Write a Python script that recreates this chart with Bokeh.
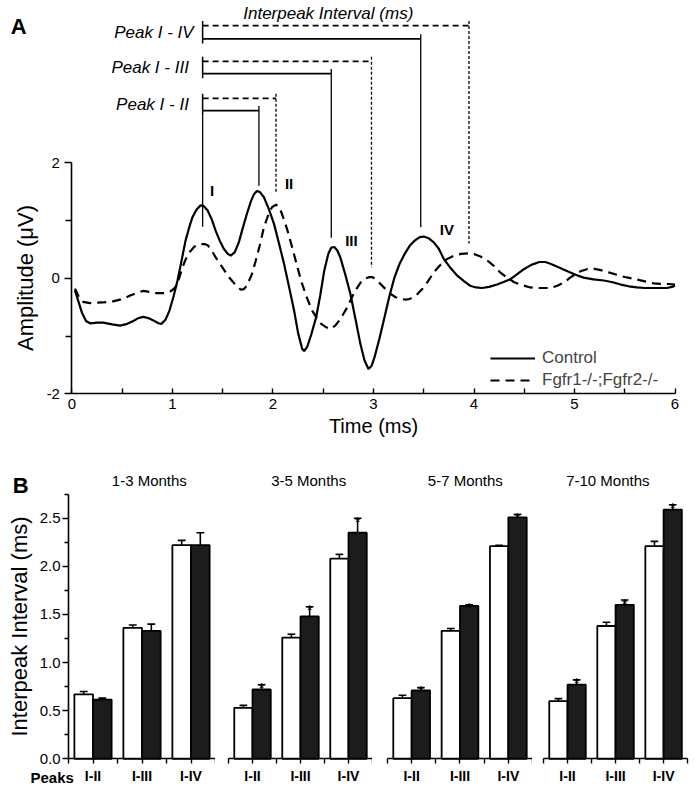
from bokeh.plotting import figure
from bokeh.layouts import column, row
from bokeh.models import (Range1d, FixedTicker, Label, Legend, LegendItem)
from bokeh.embed import file_html
from bokeh.resources import INLINE

FONT = "Liberation Sans"

# ---------------- Panel A data (ABR waveforms) ----------------
control_t = [0.03, 0.06, 0.10, 0.14, 0.18, 0.25, 0.31, 0.40, 0.48, 0.55, 0.61, 0.66, 0.71, 0.76,
             0.81, 0.86, 0.89, 0.93, 0.97, 1.01, 1.05, 1.09, 1.13, 1.17, 1.20, 1.24, 1.28, 1.31,
             1.35, 1.39, 1.43, 1.47, 1.51, 1.55, 1.58, 1.62, 1.66, 1.70, 1.74, 1.78, 1.81, 1.84,
             1.87, 1.91, 1.96, 2.01, 2.06, 2.11, 2.16, 2.21, 2.25, 2.29, 2.31, 2.34, 2.38, 2.43,
             2.47, 2.51, 2.55, 2.58, 2.61, 2.64, 2.67, 2.72, 2.77, 2.82, 2.87, 2.91, 2.95, 2.98,
             3.01, 3.06, 3.11, 3.16, 3.21, 3.26, 3.31, 3.36, 3.41, 3.46, 3.50, 3.55, 3.60, 3.65,
             3.70, 3.76, 3.83, 3.90, 3.96, 4.02, 4.08, 4.15, 4.23, 4.30, 4.36, 4.43, 4.50, 4.57,
             4.65, 4.71, 4.76, 4.84, 4.93, 5.01, 5.09, 5.19, 5.29, 5.38, 5.46, 5.54, 5.62, 5.70,
             5.79, 5.86, 5.92, 5.97, 6.00]
control_amp = [-0.21, -0.38, -0.60, -0.74, -0.78, -0.77, -0.77, -0.80, -0.82, -0.79, -0.74, -0.69,
               -0.67, -0.69, -0.73, -0.78, -0.79, -0.72, -0.56, -0.32, -0.04, 0.30, 0.65, 0.90,
               1.06, 1.19, 1.26, 1.25, 1.17, 1.02, 0.82, 0.65, 0.51, 0.42, 0.39, 0.45, 0.62, 0.87,
               1.11, 1.33, 1.45, 1.51, 1.49, 1.40, 1.19, 0.94, 0.60, 0.25, -0.15, -0.56, -0.95,
               -1.22, -1.26, -1.19, -0.98, -0.67, -0.30, 0.13, 0.42, 0.53, 0.54, 0.48, 0.36, 0.06,
               -0.27, -0.70, -1.14, -1.42, -1.57, -1.52, -1.37, -1.04, -0.67, -0.30, 0.02, 0.25,
               0.42, 0.56, 0.65, 0.71, 0.72, 0.69, 0.62, 0.51, 0.33, 0.19, 0.05, -0.05, -0.13,
               -0.16, -0.17, -0.15, -0.11, -0.06, -0.02, 0.07, 0.16, 0.23, 0.28, 0.28, 0.25, 0.19,
               0.12, 0.06, 0.01, -0.02, -0.04, -0.07, -0.11, -0.14, -0.16, -0.17, -0.17, -0.17,
               -0.17, -0.15, -0.13]

mutant_t = [0.03, 0.07, 0.11, 0.18, 0.30, 0.41, 0.50, 0.58, 0.65, 0.71, 0.78, 0.84, 0.91, 0.97,
            1.01, 1.04, 1.07, 1.10, 1.13, 1.17, 1.22, 1.28, 1.32, 1.35, 1.39, 1.43, 1.50, 1.56,
            1.62, 1.68, 1.71, 1.74, 1.79, 1.83, 1.87, 1.91, 1.95, 1.99, 2.03, 2.06, 2.09, 2.14,
            2.19, 2.24, 2.29, 2.34, 2.39, 2.44, 2.48, 2.53, 2.57, 2.62, 2.66, 2.70, 2.74, 2.78,
            2.82, 2.87, 2.91, 2.96, 2.99, 3.03, 3.07, 3.12, 3.17, 3.22, 3.27, 3.32, 3.36, 3.40,
            3.44, 3.49, 3.54, 3.60, 3.66, 3.73, 3.80, 3.87, 3.94, 4.00, 4.07, 4.13, 4.20, 4.26,
            4.33, 4.40, 4.48, 4.56, 4.66, 4.76, 4.83, 4.90, 4.95, 5.00, 5.06, 5.13, 5.20, 5.26,
            5.34, 5.42, 5.50, 5.59, 5.69, 5.79, 5.87, 5.94, 6.00]
mutant_amp = [-0.18, -0.33, -0.41, -0.43, -0.42, -0.40, -0.36, -0.30, -0.25, -0.22, -0.24, -0.26,
              -0.26, -0.24, -0.19, -0.13, 0.02, 0.19, 0.32, 0.45, 0.55, 0.59, 0.59, 0.57, 0.48,
              0.36, 0.18, 0.02, -0.10, -0.20, -0.19, -0.13, 0.07, 0.31, 0.58, 0.88, 1.08, 1.23,
              1.27, 1.24, 1.11, 0.85, 0.54, 0.21, -0.10, -0.35, -0.56, -0.70, -0.79, -0.85, -0.88,
              -0.82, -0.73, -0.62, -0.50, -0.35, -0.21, -0.08, -0.01, 0.02, 0.02, -0.03, -0.10,
              -0.19, -0.27, -0.33, -0.36, -0.37, -0.36, -0.32, -0.27, -0.18, -0.06, 0.10, 0.22,
              0.33, 0.39, 0.42, 0.43, 0.42, 0.37, 0.31, 0.21, 0.10, 0.01, -0.07, -0.12, -0.16,
              -0.17, -0.17, -0.13, -0.07, 0.00, 0.06, 0.12, 0.16, 0.16, 0.14, 0.10, 0.06, 0.02,
              -0.01, -0.05, -0.09, -0.10, -0.10, -0.11]

peak_names = ["I", "II", "III", "IV"]
control_peak_t = [1.30, 1.86, 2.58, 3.47]
mutant_peak_t = [1.30, 2.03, 2.98, 3.95]
interval_labels = ["Peak  I - II", "Peak  I - III", "Peak I - IV"]

# ---------------- Panel B data (interpeak intervals, ms) ----------------
age_groups = ["1-3 Months", "3-5 Months", "5-7 Months", "7-10 Months"]
peak_pairs = ["I-II", "I-III", "I-IV"]
control_mean = [[0.67, 1.36, 2.22], [0.53, 1.26, 2.08], [0.63, 1.33, 2.21], [0.60, 1.38, 2.21]]
control_err = [[0.03, 0.03, 0.05], [0.025, 0.035, 0.045], [0.03, 0.025, 0.01], [0.025, 0.04, 0.05]]
mutant_mean = [[0.615, 1.33, 2.22], [0.72, 1.48, 2.35], [0.71, 1.59, 2.51], [0.77, 1.60, 2.59]]
mutant_err = [[0.015, 0.07, 0.13], [0.05, 0.10, 0.15], [0.03, 0.01, 0.03], [0.05, 0.05, 0.05]]
significant = [[False, False, False], [True, True, True], [True, True, True], [True, True, True]]


def style_axes(p, size="15px"):
    for ax in list(p.xaxis) + list(p.yaxis):
        ax.axis_line_width = 1.6
        ax.axis_line_color = "black"
        ax.major_tick_line_width = 1.4
        ax.minor_tick_line_width = 1.4
        ax.major_label_text_font = FONT
        ax.major_label_text_font_size = size
        ax.major_label_text_color = "black"
        ax.axis_label_text_font = FONT
        ax.axis_label_text_font_style = "normal"
        ax.axis_label_text_font_size = "20px"
        ax.axis_label_text_color = "black"


def lbl(p, x, y, text, size, style="normal", align="left", baseline="middle", yoff=0):
    p.add_layout(Label(x=x, y=y, text=text, text_font=FONT, text_font_size=size,
                       text_font_style=style, text_align=align, text_baseline=baseline,
                       text_color="black", y_offset=yoff))


# ================= Panel A =================
# frame covers the whole figure; axes are pinned at x=0 and y=-2
pa = figure(width=690, height=444, output_backend="svg", toolbar_location=None,
            x_range=Range1d(-0.711, 6.154), y_range=Range1d(-2.877, 4.804),
            min_border_left=0, min_border_right=0, min_border_top=0, min_border_bottom=0)
pa.outline_line_color = None
pa.grid.visible = False
pa.background_fill_color = "white"

rc = pa.line(control_t, control_amp, line_color="black", line_width=2.2)
rm = pa.line(mutant_t, mutant_amp, line_color="black", line_width=2.2, line_dash="9 6")

pa.xaxis.ticker = FixedTicker(ticks=[0, 1, 2, 3, 4, 5, 6], minor_ticks=[0.5, 1.5, 2.5, 3.5, 4.5, 5.5])
pa.yaxis.ticker = FixedTicker(ticks=[-2, 0, 2], minor_ticks=[-1, 1])
pa.yaxis.major_label_overrides = {-2: "-2", 0: "0", 2: "2"}
pa.yaxis.bounds = (-2, 2)
pa.xaxis.bounds = (0, 6)
pa.yaxis.fixed_location = 0
pa.xaxis.fixed_location = -2
pa.xaxis.axis_label = "Time (ms)"
pa.yaxis.axis_label = "Amplitude (\u03bcV)"
style_axes(pa)
pa.yaxis.axis_label_text_font_size = "22px"
pa.xaxis.major_tick_in = 5
pa.xaxis.major_tick_out = 0
pa.xaxis.minor_tick_in = 5
pa.xaxis.minor_tick_out = 0
pa.xaxis.major_label_standoff = 5
pa.xaxis.axis_label_standoff = 3
pa.yaxis.major_tick_in = 0
pa.yaxis.major_tick_out = 7
pa.yaxis.minor_tick_in = 0
pa.yaxis.minor_tick_out = 6
pa.yaxis.major_label_standoff = 5
pa.yaxis.axis_label_standoff = 5

# interval brackets (y levels are layout positions above the trace)
solid_lvls = [2.90, 3.54, 4.14]
dash_lvls = [3.11, 3.75, 4.37]
solid_ends = [1.60, 0.70, 0.88]   # lower end of vertical marker lines (control)
dash_ends = [1.46, 0.19, 0.60]    # lower end of vertical marker lines (mutant)
t0c = control_peak_t[0]
for i in range(3):
    tc = control_peak_t[i + 1]
    tm = mutant_peak_t[i + 1]
    ys, yd = solid_lvls[i], dash_lvls[i]
    pa.segment(x0=[t0c], y0=[ys], x1=[tc], y1=[ys], line_color="black", line_width=1.8)
    pa.segment(x0=[t0c], y0=[yd], x1=[tm], y1=[yd], line_color="black", line_width=1.8,
               line_dash="6 4")
    pa.segment(x0=[t0c], y0=[yd + 0.08], x1=[t0c], y1=[ys - 0.08], line_color="black",
               line_width=1.5)
    pa.segment(x0=[tc], y0=[ys + 0.08], x1=[tc], y1=[solid_ends[i]], line_color="black",
               line_width=1.3)
    pa.segment(x0=[tm], y0=[yd + 0.08], x1=[tm], y1=[dash_ends[i]], line_color="black",
               line_width=1.3, line_dash="3 2")
    lbl(pa, 1.21, (ys + yd) / 2, interval_labels[i], "17px", style="italic", align="right")
pa.segment(x0=[t0c], y0=[solid_lvls[0] - 0.08], x1=[t0c], y1=[0.89], line_color="black",
           line_width=1.3)
lbl(pa, 2.55, 4.58, "Interpeak Interval (ms)", "17px", style="italic", align="center")

# peak numerals
numeral_pos = [(1.395, 1.52), (2.16, 1.63), (2.78, 0.66), (3.73, 0.85)]
for name, (x, y) in zip(peak_names, numeral_pos):
    lbl(pa, x, y, name, "15px", style="bold", align="center")

lbl(pa, -0.61, 4.35, "A", "22px", style="bold", baseline="alphabetic")

leg = Legend(items=[LegendItem(label="Control", renderers=[rc]),
                    LegendItem(label="Fgfr1-/-;Fgfr2-/-", renderers=[rm])],
             location=(490, 53), orientation="vertical",
             background_fill_alpha=0, border_line_color=None,
             label_text_font=FONT, label_text_font_size="17px",
             glyph_width=45, glyph_height=22, label_height=22, label_standoff=7,
             spacing=0, padding=0, margin=0)
pa.add_layout(leg)

# ================= Panel B =================
widths = [215, 157, 160, 158]
x_starts = [-1.388, -0.271, -0.31, -0.229]   # left margin of each frame, in category widths
x_ends = [3.0, 3.0, 3.0, 3.06]
title_x = [1.65, 1.67, 1.61, 1.34]
figs = []
for g in range(4):
    p = figure(width=widths[g], height=344, output_backend="svg", toolbar_location=None,
               x_range=Range1d(x_starts[g], x_ends[g]), y_range=Range1d(-0.309, 3.267),
               min_border_left=0, min_border_right=0,
               min_border_top=0, min_border_bottom=0)
    p.outline_line_color = None
    p.grid.visible = False
    centers = [0.5, 1.5, 2.5]
    xc = [c - 0.19 for c in centers]
    xm = [c + 0.19 for c in centers]
    cm, ce = control_mean[g], control_err[g]
    mm, me = mutant_mean[g], mutant_err[g]
    p.vbar(x=xc, top=cm, bottom=0, width=0.38, fill_color="white", line_color="black",
           line_width=1.8)
    p.vbar(x=xm, top=mm, bottom=0, width=0.38, fill_color="#1c1c1c", line_color="black",
           line_width=1.8)
    for xs, ms, es in ((xc, cm, ce), (xm, mm, me)):
        tops = [m + e for m, e in zip(ms, es)]
        p.segment(x0=xs, y0=ms, x1=xs, y1=tops, line_color="black", line_width=1.6)
        p.segment(x0=[x - 0.08 for x in xs], y0=tops, x1=[x + 0.08 for x in xs], y1=tops,
                  line_color="black", line_width=1.6)
    for x, m, e, s in zip(xm, mm, me, significant[g]):
        if s:
            lbl(p, x, m + e, "*", "15px", align="center", baseline="alphabetic", yoff=-3)
    p.xaxis.ticker = FixedTicker(ticks=centers, minor_ticks=[0, 1, 2, 3])
    p.xaxis.major_label_overrides = {0.5: peak_pairs[0], 1.5: peak_pairs[1], 2.5: peak_pairs[2]}
    p.xaxis.bounds = (0, 3)
    p.xaxis.fixed_location = 0
    p.yaxis.ticker = FixedTicker(ticks=[0, 0.5, 1.0, 1.5, 2.0, 2.5],
                                 minor_ticks=[0.25, 0.75, 1.25, 1.75, 2.25, 2.75])
    p.yaxis.bounds = (0, 2.75)
    p.yaxis.fixed_location = 0
    style_axes(p)
    p.xaxis.major_label_text_font_style = "bold"
    p.xaxis.major_label_text_font_size = "14px"
    p.xaxis.major_tick_in = 0
    p.xaxis.major_tick_out = 5
    p.xaxis.minor_tick_in = 0
    p.xaxis.minor_tick_out = 5
    p.xaxis.major_label_standoff = 4
    p.yaxis.major_tick_in = 0
    p.yaxis.major_tick_out = 6
    p.yaxis.minor_tick_in = 0
    p.yaxis.minor_tick_out = 4
    p.yaxis.major_label_standoff = 2
    p.yaxis.axis_label_standoff = 5
    p.yaxis.axis_label_text_font_size = "22px"
    lbl(p, title_x[g], 2.89, age_groups[g], "15px", align="center")
    if g == 0:
        p.yaxis.axis_label = "Interpeak Interval (ms)"
        p.yaxis.major_label_overrides = {0: "0.0", 0.5: "0.5", 1: "1.0", 1.5: "1.5",
                                         2: "2.0", 2.5: "2.5"}
        lbl(p, -1.14, 2.84, "B", "22px", style="bold", baseline="alphabetic")
        lbl(p, -0.776, -0.19, "Peaks", "15px", style="bold", align="left")
    else:
        p.yaxis.visible = False
    figs.append(p)

layout = column(pa, row(*figs))
open("out.html", "w").write(file_html(layout, INLINE))
